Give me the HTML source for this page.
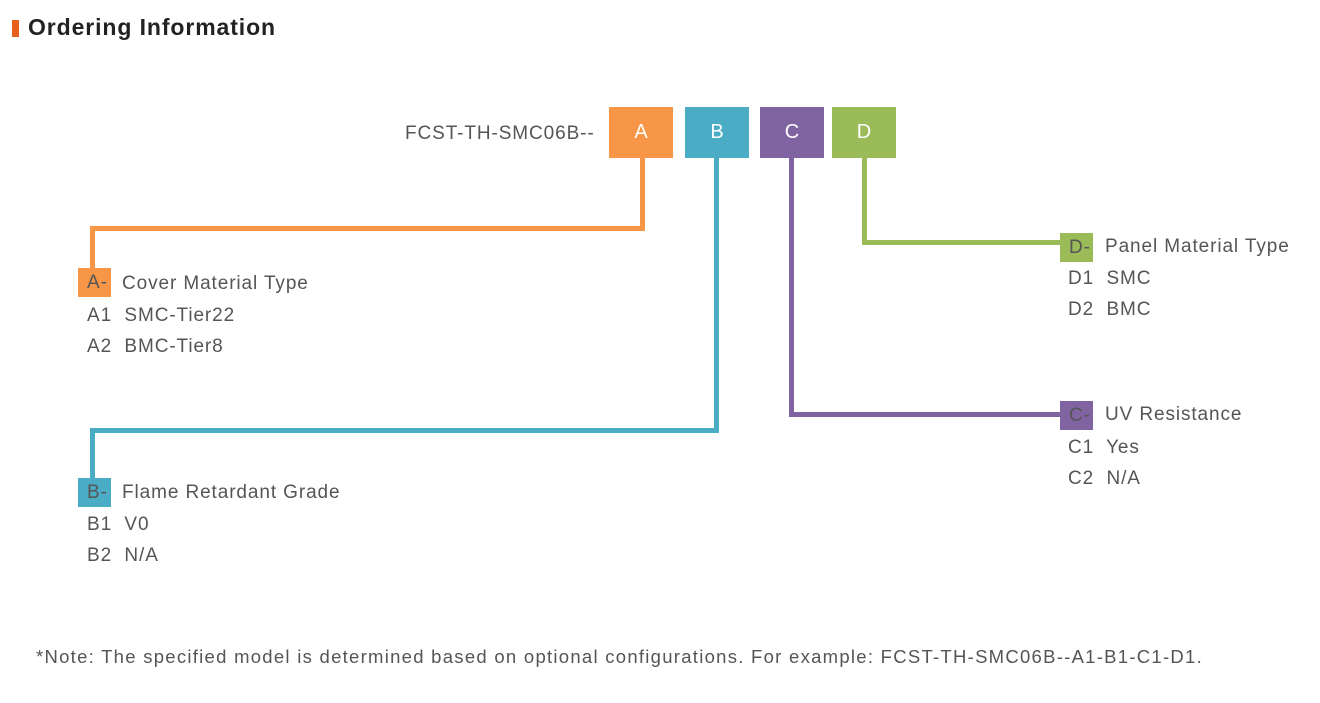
<!DOCTYPE html>
<html><head><meta charset="utf-8"><style>
body{margin:0;width:1320px;height:703px;background:#fff;position:relative;overflow:hidden;font-family:"Liberation Sans",sans-serif;color:#555}
.a{position:absolute}
.t{position:absolute;font-size:19px;white-space:nowrap;line-height:1;letter-spacing:0.9px}
.box{position:absolute;width:64px;height:51px;color:#fff;font-size:20px;text-align:center;line-height:51px}
.lb{position:absolute;width:33px;height:29px;line-height:29px;font-size:19px;color:#555;text-indent:9px;letter-spacing:0.9px}
</style></head><body>
<div class="a" style="left:12px;top:20px;width:7px;height:17px;background:#e8601e"></div>
<div class="t" style="left:28px;top:16px;font-size:23px;color:#222;font-weight:bold;letter-spacing:0.9px">Ordering Information</div>

<div class="t" style="left:405px;top:124px">FCST-TH-SMC06B--</div>
<div class="box" style="left:609px;top:107px;background:#f79646">A</div>
<div class="box" style="left:685px;top:107px;background:#4bacc6">B</div>
<div class="box" style="left:760px;top:107px;background:#8064a2">C</div>
<div class="box" style="left:832px;top:107px;background:#9bbb59">D</div>

<div class="a" style="left:640px;top:158px;width:5px;height:73px;background:#f79646"></div>
<div class="a" style="left:90px;top:226px;width:555px;height:5px;background:#f79646"></div>
<div class="a" style="left:90px;top:226px;width:5px;height:42px;background:#f79646"></div>
<div class="a" style="left:714px;top:158px;width:5px;height:275px;background:#4bacc6"></div>
<div class="a" style="left:90px;top:428px;width:629px;height:5px;background:#4bacc6"></div>
<div class="a" style="left:90px;top:428px;width:5px;height:50px;background:#4bacc6"></div>
<div class="a" style="left:789px;top:158px;width:5px;height:259px;background:#8064a2"></div>
<div class="a" style="left:789px;top:412px;width:273px;height:5px;background:#8064a2"></div>
<div class="a" style="left:862px;top:158px;width:5px;height:87px;background:#9bbb59"></div>
<div class="a" style="left:862px;top:240px;width:200px;height:5px;background:#9bbb59"></div>

<div class="lb" style="left:78px;top:268px;background:#f79646">A-</div>
<div class="t" style="left:122px;top:274px">Cover Material Type</div>
<div class="t" style="left:87px;top:306px">A1&nbsp; SMC-Tier22</div>
<div class="t" style="left:87px;top:337px">A2&nbsp; BMC-Tier8</div>

<div class="lb" style="left:78px;top:478px;background:#4bacc6">B-</div>
<div class="t" style="left:122px;top:483px">Flame Retardant Grade</div>
<div class="t" style="left:87px;top:515px">B1&nbsp; V0</div>
<div class="t" style="left:87px;top:546px">B2&nbsp; N/A</div>

<div class="lb" style="left:1060px;top:233px;background:#9bbb59">D-</div>
<div class="t" style="left:1105px;top:237px">Panel Material Type</div>
<div class="t" style="left:1068px;top:269px">D1&nbsp; SMC</div>
<div class="t" style="left:1068px;top:300px">D2&nbsp; BMC</div>

<div class="lb" style="left:1060px;top:401px;background:#8064a2">C-</div>
<div class="t" style="left:1105px;top:405px">UV Resistance</div>
<div class="t" style="left:1068px;top:438px">C1&nbsp; Yes</div>
<div class="t" style="left:1068px;top:469px">C2&nbsp; N/A</div>

<div class="t" style="left:36px;top:648px;font-size:18.5px;letter-spacing:1.27px">*Note: The specified model is determined based on optional configurations. For example: FCST-TH-SMC06B--A1-B1-C1-D1.</div>
</body></html>
